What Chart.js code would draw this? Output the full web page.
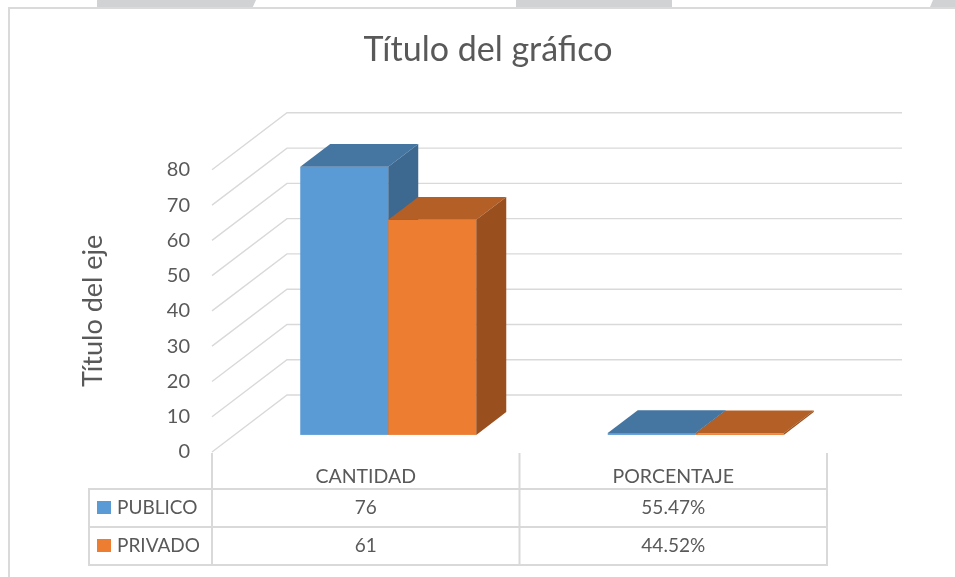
<!DOCTYPE html>
<html>
<head>
<meta charset="utf-8">
<script src="https://cdn.jsdelivr.net/npm/chart.js@4.4.1/dist/chart.umd.min.js"></script>
<style>
html,body{margin:0;padding:0;background:#fff;width:955px;height:577px;overflow:hidden;}
#wrap{position:relative;width:955px;height:577px;}
.tab{position:absolute;top:0;height:7px;background:#D0D2D4;}
#topline{position:absolute;left:8px;top:7px;width:947px;height:2px;background:#DADADA;}
#leftline{position:absolute;left:8px;top:7px;width:2px;height:570px;background:#DADADA;}
canvas{position:absolute;left:0;top:0;}
</style>
</head>
<body>
<div id="wrap">
  <div class="tab" style="left:97px;width:159px;clip-path:polygon(0 0,100% 0,98% 100%,0 100%)"></div>
  <div class="tab" style="left:516px;width:156px"></div>
  <div class="tab" style="left:930px;width:25px;clip-path:polygon(12% 0,100% 0,100% 100%,0 100%)"></div>
  <div id="topline"></div>
  <div id="leftline"></div>
  <canvas id="c" width="955" height="577"></canvas>
</div>
<script>
// ---- data ----
const categories = ['CANTIDAD', 'PORCENTAJE'];
const seriesNames = ['PUBLICO', 'PRIVADO'];
const publico = [76, 0.5547];
const privado = [61, 0.4452];
const yTicks = [0, 10, 20, 30, 40, 50, 60, 70, 80];
const valueFormats = ['integer', 'percent'];

// ---- styles ----
const FONT = 'Lato, "Liberation Sans", sans-serif';
const TEXT = '#595959';
const GRID = '#D9D9D9';
const DEPTH = { dx: 75, dy: -57 };
const BAR_FRONT = 0.3, BAR_BACK = 0.7;

function fmt(v, i) {
  return valueFormats[i] === 'percent' ? (v * 100).toFixed(2) + '%' : String(v);
}

function poly(ctx, pts) {
  ctx.beginPath();
  ctx.moveTo(pts[0][0], pts[0][1]);
  for (let i = 1; i < pts.length; i++) ctx.lineTo(pts[i][0], pts[i][1]);
  ctx.closePath();
  ctx.fill();
}

const excel3d = {
  id: 'excel3d',
  beforeDatasetsDraw(chart) {
    const { ctx, chartArea: a, scales: { x, y } } = chart;
    ctx.save();
    // walls / gridlines
    ctx.strokeStyle = GRID;
    ctx.lineWidth = 1.4;
    const backRight = a.right + DEPTH.dx;
    yTicks.forEach(v => {
      const py = y.getPixelForValue(v);
      ctx.beginPath();
      ctx.moveTo(a.left, py);
      ctx.lineTo(a.left + DEPTH.dx, py + DEPTH.dy);
      ctx.lineTo(backRight, py + DEPTH.dy);
      ctx.stroke();
    });
    // bars
    const ox = DEPTH.dx * BAR_FRONT, oy = DEPTH.dy * BAR_FRONT;
    const tx = DEPTH.dx * (BAR_BACK - BAR_FRONT), ty = DEPTH.dy * (BAR_BACK - BAR_FRONT);
    const n = categories.length;
    for (let i = 0; i < n; i++) {
      chart.data.datasets.forEach((ds, di) => {
        const bar = chart.getDatasetMeta(di).data[i];
        const p = bar.getProps(['x', 'y', 'base', 'width'], true);
        const l = p.x - p.width / 2 + ox, r = p.x + p.width / 2 + ox;
        const t = Math.min(p.y, p.base) + oy, b = Math.max(p.y, p.base) + oy;
        ctx.fillStyle = ds.backgroundColor;
        ctx.fillRect(l, t, r - l, Math.max(b - t, 1));
        ctx.fillStyle = ds.topColor;
        poly(ctx, [[l, t], [r, t], [r + tx, t + ty], [l + tx, t + ty]]);
        ctx.fillStyle = ds.sideColor;
        poly(ctx, [[r, t], [r + tx, t + ty], [r + tx, b + ty], [r, b]]);
      });
    }
    ctx.restore();
    return false;
  },
  afterDraw(chart) {
    const { ctx, chartArea: a, scales: { x } } = chart;
    const catW = x.getPixelForValue(1) - x.getPixelForValue(0);
    const bounds = [a.left].concat(categories.map((c, i) => x.getPixelForValue(i) + catW / 2));
    const rowTop = a.bottom + 37, rowH = 38, leftX = 89;
    const rowsBottom = rowTop + rowH * chart.data.datasets.length;
    ctx.save();
    ctx.strokeStyle = GRID;
    ctx.lineWidth = 2;
    bounds.forEach(bx => {
      ctx.beginPath(); ctx.moveTo(bx, a.bottom + 1); ctx.lineTo(bx, rowsBottom); ctx.stroke();
    });
    ctx.beginPath(); ctx.moveTo(leftX, rowTop); ctx.lineTo(leftX, rowsBottom); ctx.stroke();
    for (let r = 0; r <= chart.data.datasets.length; r++) {
      const yy = rowTop + r * rowH;
      ctx.beginPath(); ctx.moveTo(leftX - 1, yy); ctx.lineTo(a.right + 1, yy); ctx.stroke();
    }
    ctx.font = '19px ' + FONT;
    ctx.fillStyle = TEXT;
    ctx.textBaseline = 'middle';
    chart.data.datasets.forEach((ds, di) => {
      const cy = rowTop + rowH * di + rowH / 2;
      ctx.fillStyle = ds.backgroundColor;
      ctx.fillRect(97, cy - 7, 14, 13);
      ctx.fillStyle = TEXT;
      ctx.textAlign = 'left';
      ctx.fillText(ds.label, 117, cy);
      ctx.textAlign = 'center';
      ds.data.forEach((v, i) => {
        ctx.fillText(fmt(v, i), x.getPixelForValue(i), cy);
      });
    });
    ctx.restore();
  }
};

new Chart(document.getElementById('c'), {
  type: 'bar',
  data: {
    labels: categories,
    datasets: [
      { label: seriesNames[0], data: publico, backgroundColor: '#5B9BD5', topColor: '#4575A1', sideColor: '#3D6890' },
      { label: seriesNames[1], data: privado, backgroundColor: '#ED7D31', topColor: '#B45F25', sideColor: '#9A4F1E' }
    ]
  },
  options: {
    responsive: false,
    animation: false,
    events: [],
    categoryPercentage: 0.5724,
    barPercentage: 1,
    layout: { padding: { left: 60, right: 39, top: 0, bottom: 0 } },
    plugins: {
      legend: { display: false },
      tooltip: { enabled: false },
      title: {
        display: true,
        text: 'Título del gráfico',
        color: TEXT,
        font: { family: FONT, size: 34, weight: 'normal' },
        padding: { top: 30, bottom: 99 }
      }
    },
    scales: {
      x: {
        afterFit(s) { s.height = 125; },
        grid: { display: false, drawTicks: false },
        border: { display: false },
        ticks: { color: TEXT, font: { family: FONT, size: 19.5 }, padding: 13 }
      },
      y: {
        min: 0, max: 80,
        afterFit(s) { s.width = 152; },
        afterBuildTicks(s) { s.ticks = yTicks.map(v => ({ value: v })); },
        grid: { display: false, drawTicks: false },
        border: { display: false },
        ticks: { color: TEXT, font: { family: FONT, size: 20 }, padding: 22 },
        title: {
          display: true, text: 'Título del eje', color: TEXT,
          font: { family: FONT, size: 27 }, padding: { top: 17, bottom: 0 }
        }
      },
      yRight: {
        position: 'right',
        min: 0, max: 80,
        afterFit(s) { s.width = 89; },
        grid: { display: false, drawTicks: false },
        border: { display: false },
        ticks: { display: false }
      }
    }
  },
  plugins: [excel3d]
});
</script>
</body>
</html>
